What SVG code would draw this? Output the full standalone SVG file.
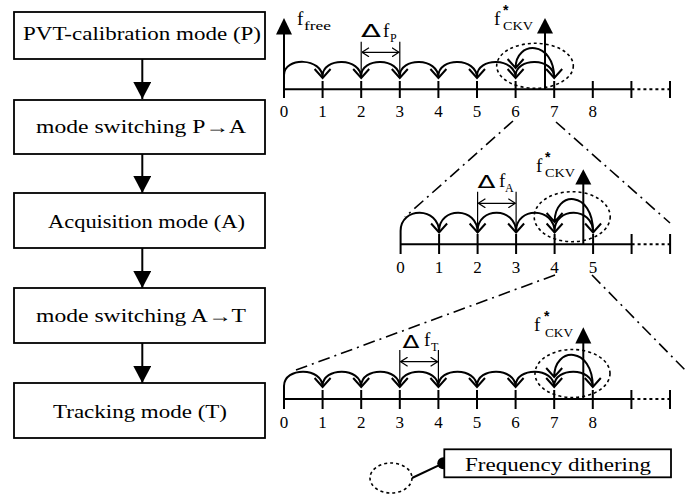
<svg xmlns="http://www.w3.org/2000/svg" width="695" height="498" viewBox="0 0 695 498">
<style>
.box{fill:#fff;stroke:#000;stroke-width:1.8}
.bt{font-family:"Liberation Serif","DejaVu Serif",serif;font-size:18px;fill:#000}
.ln{stroke:#000;stroke-width:2;fill:none}
.arc{stroke:#000;stroke-width:2;fill:none}
.dot{stroke:#000;stroke-width:2;stroke-dasharray:3 3;fill:none}
.de{stroke:#000;stroke-width:1.6;stroke-dasharray:3 3;fill:none}
.dd{stroke:#000;stroke-width:1.6;stroke-dasharray:12 5 2 5;fill:none}
.num{font-family:"Liberation Serif","DejaVu Serif",serif;font-size:17px;fill:#000;text-anchor:middle}
.f{font-family:"Liberation Serif","DejaVu Serif",serif;font-size:19px;fill:#000}
.st{font-family:"Liberation Sans","DejaVu Sans",sans-serif;font-size:14px;font-weight:bold;fill:#000}
.sub{font-family:"Liberation Serif","DejaVu Serif",serif;font-size:12px;fill:#000}
.dl{font-family:"DejaVu Sans",sans-serif;font-size:18px;fill:#000}
.dim{stroke:#000;stroke-width:1.2;fill:none}
</style>
<defs>
<marker id="tri" markerUnits="userSpaceOnUse" markerWidth="17" markerHeight="18" refX="17" refY="9" orient="auto" viewBox="0 0 17 18">
<path d="M0,0 L17,9 L0,18 Z" fill="#000"/>
</marker>
<marker id="chev" markerUnits="userSpaceOnUse" markerWidth="8" markerHeight="10" refX="7.5" refY="5" orient="auto-start-reverse" viewBox="0 0 8 10">
<path d="M0.5,0.5 L7.5,5 L0.5,9.5" fill="none" stroke="#000" stroke-width="1.2"/>
</marker>
</defs>

<g id="node-p">
<rect class="box" x="14" y="12" width="251" height="47"/>
<text class="bt" x="23" y="40" textLength="238" lengthAdjust="spacingAndGlyphs">PVT-calibration mode (P)</text>
</g>
<g id="node-pa">
<rect class="box" x="14" y="100" width="251" height="54"/>
<text class="bt" x="36" y="133" textLength="210" lengthAdjust="spacingAndGlyphs">mode switching P→A</text>
</g>
<g id="node-a">
<rect class="box" x="14" y="193" width="251" height="55"/>
<text class="bt" x="48" y="228" textLength="197" lengthAdjust="spacingAndGlyphs">Acquisition mode (A)</text>
</g>
<g id="node-at">
<rect class="box" x="14" y="288" width="251" height="55"/>
<text class="bt" x="36" y="322" textLength="210" lengthAdjust="spacingAndGlyphs">mode switching A→T</text>
</g>
<g id="node-t">
<rect class="box" x="14" y="383" width="251" height="55"/>
<text class="bt" x="53" y="418" textLength="174" lengthAdjust="spacingAndGlyphs">Tracking mode (T)</text>
</g>

<g id="connectors">
<line class="ln" x1="142.3" y1="59" x2="142.3" y2="99" marker-end="url(#tri)"/>
<line class="ln" x1="142.3" y1="154" x2="142.3" y2="193" marker-end="url(#tri)"/>
<line class="ln" x1="142.3" y1="248" x2="142.3" y2="288" marker-end="url(#tri)"/>
<line class="ln" x1="142.3" y1="343" x2="142.3" y2="383" marker-end="url(#tri)"/>
</g>

<g id="panel-p">
<line class="ln" x1="284" y1="89.3" x2="631.4" y2="89.3"/>
<line class="dot" x1="631.4" y1="89.3" x2="670" y2="89.3"/>
<path class="ln" d="M284,81V98 M322.6,81V98 M361.2,81V98 M399.8,81V98 M438.4,81V98 M477,81V98 M515.6,81V98 M554.2,81V98 M592.8,81V98 M631.4,81V98 M670,81V98"/>
<g class="num">
<text x="284" y="117">0</text><text x="322.6" y="117">1</text><text x="361.2" y="117">2</text><text x="399.8" y="117">3</text><text x="438.4" y="117">4</text><text x="477" y="117">5</text><text x="515.6" y="117">6</text><text x="554.2" y="117">7</text><text x="592.8" y="117">8</text>
</g>
<path class="arc" d="M284,75 C284,57 322.6,57 322.6,78 M322.6,76 C322.6,57 361.2,57 361.2,78 M361.2,76 C361.2,57 399.8,57 399.8,78 M399.8,76 C399.8,57 438.4,57 438.4,78 M438.4,76 C438.4,57 477,57 477,78 M477,76 C477,57 515.6,57 515.6,78 M515.6,76 C515.6,57 554.2,57 554.2,78"/>
<path class="arc" d="M314.6,69L322.6,78L330.6,69 M353.2,69L361.2,78L369.2,69 M391.8,69L399.8,78L407.8,69 M430.4,69L438.4,78L446.4,69 M469,69L477,78L485,69 M507.6,69L515.6,78L523.6,69 M546.2,69L554.2,78L562.2,69"/>
<path class="arc" d="M554.2,78 C554.2,40 515.6,40 515.6,68 M507.6,59L515.6,68L523.6,59"/>
<line class="ln" x1="284" y1="89.3" x2="284" y2="34"/>
<path d="M276,34.5 L292,34.5 L284,18 Z" fill="#000"/>
<text class="f" x="297" y="25">f</text><text class="sub" x="304" y="30" textLength="27" lengthAdjust="spacingAndGlyphs">free</text>
<line class="ln" x1="545" y1="89.3" x2="545" y2="33"/>
<path d="M537,33.5 L553,33.5 L545,18 Z" fill="#000"/>
<text class="f" x="494" y="25">f</text><text class="st" x="503" y="15">*</text><text class="sub" x="503" y="30" textLength="30" lengthAdjust="spacingAndGlyphs">CKV</text>
<ellipse class="de" cx="535" cy="65.8" rx="38.3" ry="22.5"/>
<path class="dim" d="M361.2,41.7V78 M399.8,41.7V78"/>
<line class="dim" x1="362" y1="52.3" x2="399" y2="52.3" marker-start="url(#chev)" marker-end="url(#chev)"/>
<text class="dl" x="361" y="37" textLength="20" lengthAdjust="spacingAndGlyphs">Δ</text>
<text class="f" x="383" y="37">f</text><text class="sub" x="390" y="42">P</text>
</g>

<g id="zoom-lines">
<line class="dd" x1="513" y1="121" x2="405" y2="217"/>
<line class="dd" x1="556" y1="122" x2="670" y2="223"/>
<line class="dd" x1="555" y1="275" x2="296" y2="370"/>
<line class="dd" x1="592" y1="275" x2="687" y2="372"/>
</g>

<g id="panel-a">
<line class="ln" x1="400.6" y1="244.3" x2="631.6" y2="244.3"/>
<line class="dot" x1="631.6" y1="244.3" x2="670.1" y2="244.3"/>
<path class="ln" d="M400.6,234V254 M439.1,234V254 M477.6,234V254 M516.1,234V254 M554.6,234V254 M593.1,234V254 M631.6,234V254 M670.1,234V254"/>
<g class="num">
<text x="400.6" y="272.5">0</text><text x="439.1" y="272.5">1</text><text x="477.6" y="272.5">2</text><text x="516.1" y="272.5">3</text><text x="554.6" y="272.5">4</text><text x="593.1" y="272.5">5</text>
</g>
<path class="arc" d="M400.6,234 L400.6,231 C400.6,206.5 439.1,206.5 439.1,232.5 M439.1,231 C439.1,206.5 477.6,206.5 477.6,232.5 M477.6,231 C477.6,206.5 516.1,206.5 516.1,232.5 M516.1,231 C516.1,206.5 554.6,206.5 554.6,232.5 M554.6,231 C554.6,206.5 593.1,206.5 593.1,232.5"/>
<path class="arc" d="M431.1,223.5L439.1,232.5L447.1,223.5 M469.6,223.5L477.6,232.5L485.6,223.5 M508.1,223.5L516.1,232.5L524.1,223.5 M546.6,223.5L554.6,232.5L562.6,223.5 M585.1,223.5L593.1,232.5L601.1,223.5"/>
<path class="arc" d="M593.1,232 C593.1,190 554.6,190 554.6,222 M546.6,213L554.6,222L562.6,213"/>
<line class="ln" x1="583.3" y1="244.3" x2="583.3" y2="184"/>
<path d="M575.3,184.5 L591.3,184.5 L583.3,169.3 Z" fill="#000"/>
<text class="f" x="536" y="172">f</text><text class="st" x="545" y="162">*</text><text class="sub" x="545" y="177" textLength="30" lengthAdjust="spacingAndGlyphs">CKV</text>
<ellipse class="de" cx="572.2" cy="216.7" rx="38" ry="25"/>
<path class="dim" d="M477.6,191.7V232 M516.1,191.7V232"/>
<line class="dim" x1="478.4" y1="203.3" x2="515.3" y2="203.3" marker-start="url(#chev)" marker-end="url(#chev)"/>
<text class="dl" x="477.5" y="188" textLength="18" lengthAdjust="spacingAndGlyphs">Δ</text>
<text class="f" x="499" y="187">f</text><text class="sub" x="505" y="192">A</text>
</g>

<g id="panel-t">
<line class="ln" x1="284" y1="399" x2="631.4" y2="399"/>
<line class="dot" x1="631.4" y1="399" x2="670" y2="399"/>
<path class="ln" d="M284,390V409 M322.6,390V409 M361.2,390V409 M399.8,390V409 M438.4,390V409 M477,390V409 M515.6,390V409 M554.2,390V409 M592.8,390V409 M631.4,390V409 M670,390V409"/>
<g class="num">
<text x="284" y="428">0</text><text x="322.6" y="428">1</text><text x="361.2" y="428">2</text><text x="399.8" y="428">3</text><text x="438.4" y="428">4</text><text x="477" y="428">5</text><text x="515.6" y="428">6</text><text x="554.2" y="428">7</text><text x="592.8" y="428">8</text>
</g>
<path class="arc" d="M284,390 L284,386 C284,366.7 322.6,366.7 322.6,387 M322.6,386 C322.6,366.7 361.2,366.7 361.2,387 M361.2,386 C361.2,366.7 399.8,366.7 399.8,387 M399.8,386 C399.8,366.7 438.4,366.7 438.4,387 M438.4,386 C438.4,366.7 477,366.7 477,387 M477,386 C477,366.7 515.6,366.7 515.6,387 M515.6,386 C515.6,366.7 554.2,366.7 554.2,387 M554.2,386 C554.2,366.7 592.8,366.7 592.8,387"/>
<path class="arc" d="M314.6,378L322.6,387L330.6,378 M353.2,378L361.2,387L369.2,378 M391.8,378L399.8,387L407.8,378 M430.4,378L438.4,387L446.4,378 M469,378L477,387L485,378 M507.6,378L515.6,387L523.6,378 M546.2,378L554.2,387L562.2,378 M584.8,378L592.8,387L600.8,378"/>
<path class="arc" d="M592.8,387 C592.8,346 554.2,346 554.2,377 M546.2,368L554.2,377L562.2,368"/>
<line class="ln" x1="583.3" y1="399" x2="583.3" y2="343"/>
<path d="M575.3,343.5 L591.3,343.5 L583.3,327.3 Z" fill="#000"/>
<text class="f" x="534" y="331">f</text><text class="st" x="544" y="321">*</text><text class="sub" x="545" y="336.5" textLength="28" lengthAdjust="spacingAndGlyphs">CKV</text>
<ellipse class="de" cx="572.5" cy="373.5" rx="37.5" ry="24"/>
<path class="dim" d="M399.8,350V387 M438.4,350V387" stroke="#444"/>
<line class="dim" x1="400.6" y1="361.7" x2="437.6" y2="361.7" marker-start="url(#chev)" marker-end="url(#chev)"/>
<text class="dl" x="402.5" y="347.5" textLength="17" lengthAdjust="spacingAndGlyphs">Δ</text>
<text class="f" x="424" y="346">f</text><text class="sub" x="431" y="351">T</text>
</g>

<g id="legend">
<ellipse class="de" cx="391" cy="478" rx="21" ry="15"/>
<line class="ln" x1="412" y1="478" x2="443" y2="463.3"/>
<circle cx="443.3" cy="463.3" r="6" fill="#000"/>
<rect class="box" x="444.3" y="449.3" width="226.7" height="28"/>
<text class="bt" x="465" y="470.5" textLength="186" lengthAdjust="spacingAndGlyphs">Frequency dithering</text>
</g>
</svg>
